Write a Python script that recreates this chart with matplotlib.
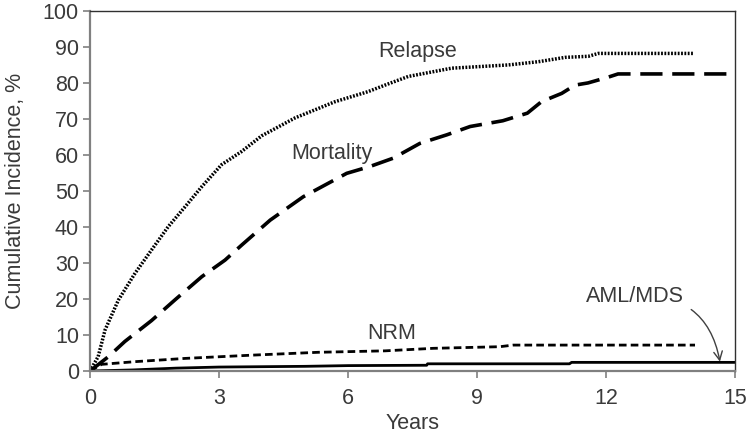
import matplotlib
matplotlib.use('Agg')
import matplotlib.pyplot as plt

plt.rcParams['font.family'] = ['Liberation Sans', 'DejaVu Sans']
plt.rcParams['lines.scale_dashes'] = False

# Relapse (dotted)
relapse_x = [0, 0.19, 0.35, 0.66, 1.05, 1.43, 1.82, 2.21, 2.6, 3.06, 3.53, 3.99, 4.77,
             5.7, 6.47, 6.86, 7.4, 8.41, 9.73, 10.43, 11.05, 11.59, 11.82, 14.05]
relapse_y = [0, 4.0, 11.4, 19.7, 27.2, 33.6, 40.1, 45.6, 51.2, 57.3, 61.0, 65.3, 70.3,
             74.8, 77.6, 79.4, 81.8, 84.1, 85.0, 85.9, 87.1, 87.4, 88.2, 88.2]

# Mortality (long dashes)
mort_x = [0, 0.43, 0.81, 1.43, 1.98, 2.6, 3.14, 3.53, 4.19, 4.96, 5.97, 6.51, 7.05,
          7.67, 8.3, 8.84, 9.6, 10.17, 10.5, 10.97, 11.28, 11.58, 12.05, 12.28, 15]
mort_y = [0, 4.0, 8.2, 14.0, 19.8, 26.2, 30.8, 35.0, 41.9, 48.4, 54.9, 56.8, 59.1,
          63.2, 65.6, 67.9, 69.5, 71.6, 74.8, 77.1, 79.4, 80.0, 81.6, 82.5, 82.5]

# NRM (short dashes)
nrm_x = [0, 0.27, 1.05, 2.21, 3.76, 5.31, 6.86, 7.98, 9.53, 9.84, 14.07]
nrm_y = [0, 1.85, 2.6, 3.5, 4.4, 5.2, 5.6, 6.3, 6.75, 7.2, 7.2]

# AML/MDS (solid)
aml_x = [0, 1, 2, 3, 5, 6, 7.83, 7.85, 11.15, 11.2, 15]
aml_y = [0, 0.3, 0.8, 1.1, 1.3, 1.5, 1.6, 2.0, 2.0, 2.4, 2.4]

xticks = [0, 3, 6, 9, 12, 15]
yticks = list(range(0, 101, 10))

txt = '#3a3a3a'
fs = 15.5
fig = plt.figure(figsize=(7.5, 4.37), dpi=100)
ax = fig.add_axes([0.12, 0.151, 0.86, 0.824])

ax.plot(relapse_x, relapse_y, color='black', lw=2.5, dashes=(1.3, 1.1), solid_capstyle='butt')
ax.plot(mort_x, mort_y, color='black', lw=2.6, dashes=(16, 7), dash_capstyle='butt')
ax.plot(nrm_x, nrm_y, color='black', lw=2.0, dashes=(5.5, 3), dash_capstyle='butt')
ax.plot(aml_x, aml_y, color='black', lw=2.0)

ax.set_xlim(0, 15)
ax.set_ylim(0, 100)
ax.set_xticks(xticks)
ax.set_yticks(yticks)
ax.tick_params(direction='out', length=5, width=1.2, color='#808080',
               labelsize=fs, labelcolor=txt)
ax.tick_params(axis='x', pad=7)
ax.tick_params(axis='y', pad=3)
for s in ['left', 'bottom']:
    ax.spines[s].set_color('#808080')
    ax.spines[s].set_linewidth(1.6)
for s in ['top', 'right']:
    ax.spines[s].set_color('#303030')
    ax.spines[s].set_linewidth(1.0)

ax.set_xlabel('Years', fontsize=fs, color=txt, labelpad=3)
ax.set_ylabel('Cumulative Incidence, %', fontsize=fs, color=txt, labelpad=12)

ax.text(7.63, 88.6, 'Relapse', fontsize=fs, color=txt, ha='center', va='center')
ax.text(5.63, 60.3, 'Mortality', fontsize=fs, color=txt, ha='center', va='center')
ax.text(7.02, 10.3, 'NRM', fontsize=fs, color=txt, ha='center', va='center')
ax.annotate('AML/MDS', xy=(14.65, 2.6), xytext=(12.67, 20.6), fontsize=fs,
            color=txt, ha='center', va='center',
            arrowprops=dict(arrowstyle='->', color='#404040', lw=1.0,
                            shrinkA=4, shrinkB=0,
                            connectionstyle='arc3,rad=-0.45'))

fig.savefig('out.png', dpi=100)
